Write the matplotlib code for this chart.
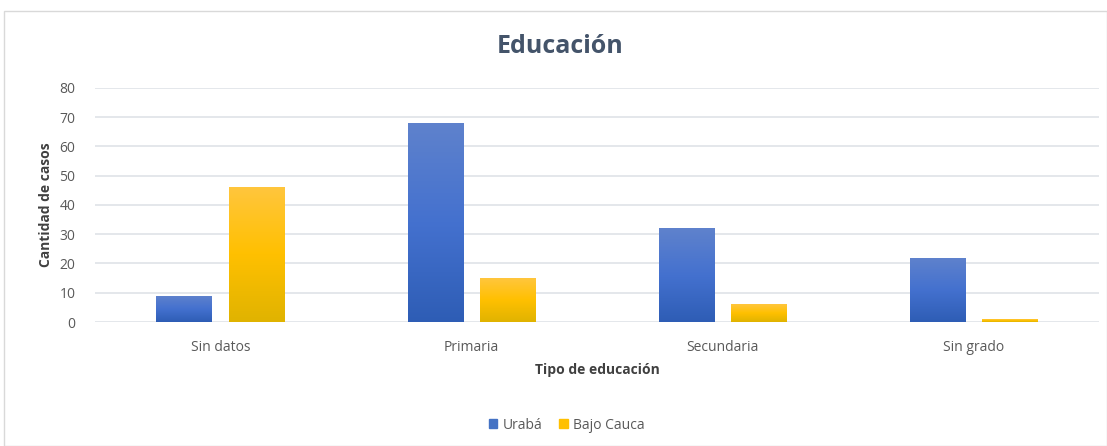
import numpy as np
import matplotlib.pyplot as plt
from matplotlib.colors import LinearSegmentedColormap
from matplotlib.patches import Rectangle

# datos
categorias = ['Sin datos', 'Primaria', 'Secundaria', 'Sin grado']
uraba = [9, 68, 32, 22]
bajo_cauca = [46, 15, 6, 1]
series = ['Urabá', 'Bajo Cauca']

plt.rcParams['font.family'] = ['Open Sans', 'DejaVu Sans']

fig = plt.figure(figsize=(11.07, 4.46), dpi=100)
ax = fig.add_axes([0.0858, 0.278, 0.9072, 0.525])

# marco exterior del grafico
fig.patches.append(Rectangle((4 / 1107, 0), 1 - 4 / 1107, 1 - 11 / 446,
                             transform=fig.transFigure, fill=False,
                             edgecolor='#d9d9d9', linewidth=1))

cmap_azul = LinearSegmentedColormap.from_list('azul', ['#2e5db5', '#4471cf', '#5f82cc'])
cmap_oro = LinearSegmentedColormap.from_list('oro', ['#e0b300', '#ffc000', '#ffc63d'])

x = np.arange(len(categorias))
ancho = 0.223
sep = 0.064

def barras_gradiente(pos, vals, cmap):
    barras = ax.bar(pos, vals, ancho, color='none', edgecolor='none', zorder=3)
    grad = np.linspace(0, 1, 256).reshape(-1, 1)
    for b in barras:
        x0, y0 = b.get_x(), b.get_y()
        w, h = b.get_width(), b.get_height()
        im = ax.imshow(grad, cmap=cmap, origin='lower', aspect='auto',
                       extent=[x0, x0 + w, y0, y0 + h], zorder=3)
        im.set_clip_path(b)
    return barras

barras_gradiente(x - (ancho + sep) / 2, uraba, cmap_azul)
barras_gradiente(x + (ancho + sep) / 2, bajo_cauca, cmap_oro)

ax.set_xlim(-0.5, len(categorias) - 0.5)
ax.set_ylim(0, 80)
ax.set_yticks(range(0, 81, 10))
ax.set_xticks(x)
ax.set_xticklabels(categorias)
ax.grid(axis='y', color='#dfe3e8', linewidth=1.2, zorder=0)
ax.set_axisbelow(True)
for s in ax.spines.values():
    s.set_visible(False)
ax.tick_params(length=0, colors='#595959', labelsize=10)
ax.tick_params(axis='x', pad=13)
ax.tick_params(axis='y', pad=14)

ax.set_ylabel('Cantidad de casos', fontsize=10, fontweight='bold', color='#404040', labelpad=5)
ax.set_xlabel('Tipo de educación', fontsize=10, fontweight='bold', color='#404040', labelpad=6)

fig.text(0.506, 0.895, 'Educación', ha='center', va='center',
         fontsize=18, fontweight='bold', color='#44546a')

h1 = Rectangle((0, 0), 1, 1, color='#4472c4')
h2 = Rectangle((0, 0), 1, 1, color='#ffc000')
fig.legend([h1, h2], series, loc='center', bbox_to_anchor=(0.512, 0.047),
           ncol=2, frameon=False, fontsize=10, handlelength=0.6, handleheight=0.6,
           handletextpad=0.4, columnspacing=1.2, labelcolor='#595959')

fig.savefig('out.png', dpi=100)
